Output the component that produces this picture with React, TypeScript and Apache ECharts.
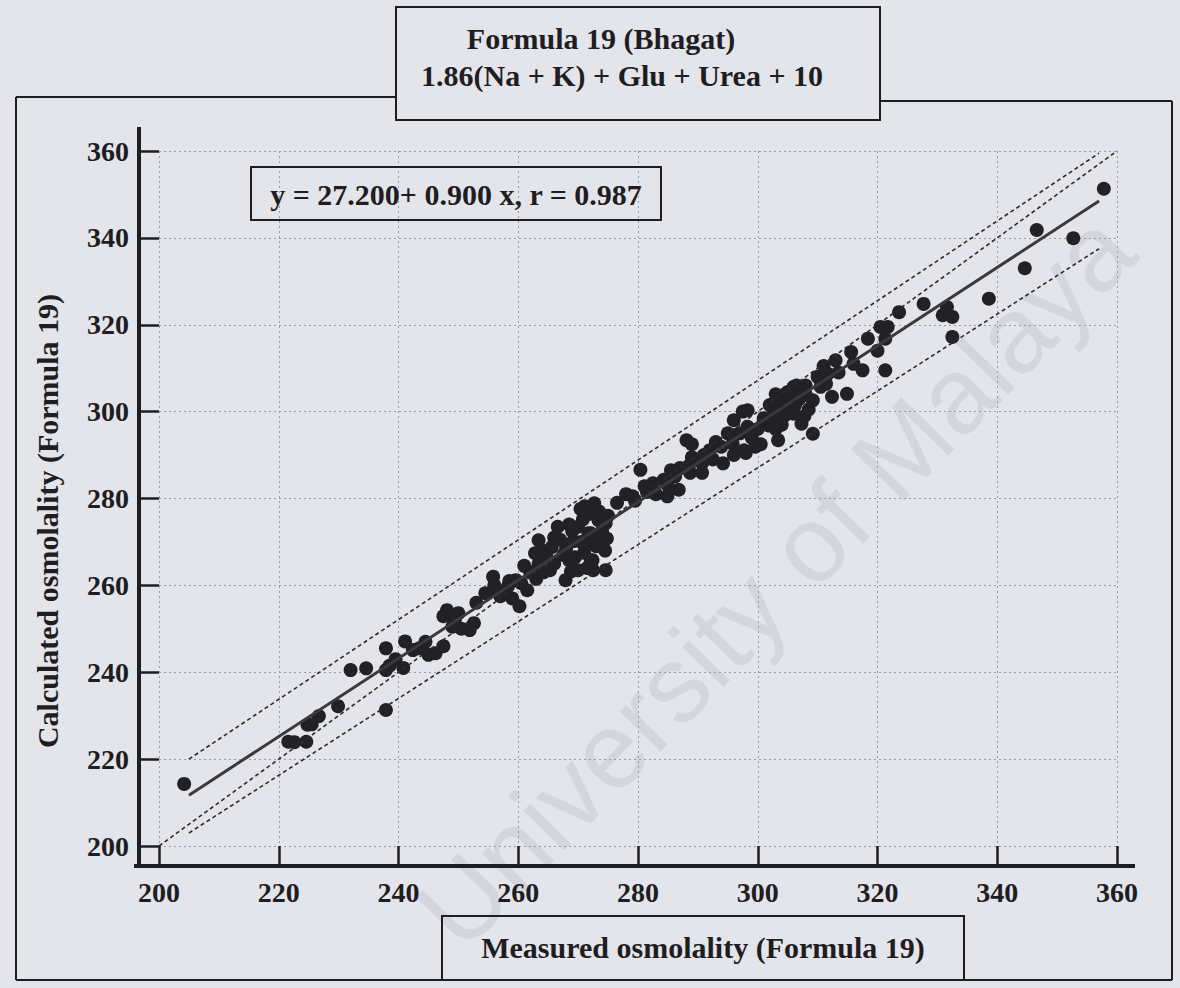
import React, { useEffect, useRef } from "react";
import * as echarts from "echarts";

// Axis scale (mOsm/kg)
const AXIS_MIN = 200;
const AXIS_MAX = 360;
const AXIS_STEP = 20;

// Regression of calculated on measured osmolality
const INTERCEPT = 27.2;
const SLOPE = 0.9;
const R = 0.987;
const FIT_RANGE = [205, 357];

// Line of identity and the limits around the fit
const identityLine = [
  [200, 200],
  [360, 360],
];
const upperLimit = [
  [205, 220],
  [357, 359.5],
];
const lowerLimit = [
  [205, 203],
  [357, 337.5],
];

// Paired samples: [measured, calculated]
const lowRange: [number, number][] = [
  [204.2, 214.3], [221.6, 224.0], [222.6, 223.9], [224.6, 224.0], [224.8, 227.9],
  [225.5, 228.0], [226.7, 229.9], [229.9, 232.2], [232.0, 240.5], [234.6, 240.9],
  [237.9, 240.5], [237.9, 231.3], [240.8, 241.0], [237.9, 245.5], [241.1, 247.1],
  [242.4, 245.1], [246.2, 244.4], [247.5, 246.0], [248.1, 254.3], [250.0, 253.6],
  [249.4, 252.0], [247.5, 252.9], [251.9, 249.7], [252.6, 251.3], [254.5, 258.2],
  [239.5, 243.0], [243.5, 245.5], [244.5, 247.0], [245.0, 244.0], [238.5, 241.5],
  [249.0, 250.5], [250.5, 250.0], [253.0, 256.0],
];

const midRange: [number, number][] = [
  [255.8, 262.0], [256.4, 258.9], [258.3, 259.8], [259.6, 261.2], [260.2, 255.2],
  [261.5, 258.9], [263.4, 265.0], [263.4, 270.4], [262.8, 267.4], [264.7, 266.6],
  [266.6, 273.5], [265.3, 263.5], [268.5, 265.8], [267.9, 261.2], [271.1, 278.2],
  [271.7, 272.0], [272.4, 265.8], [273.7, 275.1], [257.0, 257.5], [256.0, 260.0],
  [258.5, 261.0], [260.5, 260.5], [262.0, 263.0], [264.0, 268.0], [266.0, 265.0],
  [267.0, 270.5], [268.0, 268.5], [269.0, 272.5], [269.5, 266.5], [270.0, 273.5],
  [270.5, 270.0], [271.0, 267.5], [272.0, 276.5], [272.5, 263.5], [273.0, 269.0],
  [274.0, 272.5], [274.5, 268.0], [275.0, 276.0], [273.5, 277.0], [271.5, 264.0],
  [270.0, 263.5], [268.5, 274.0], [267.5, 267.0], [266.0, 271.0], [263.0, 261.5],
  [261.0, 264.5], [259.0, 257.0], [272.7, 278.9], [273.4, 275.0], [274.6, 274.3],
  [274.0, 269.0], [274.6, 263.5], [272.1, 265.8], [272.1, 272.0], [269.2, 270.2],
  [270.8, 275.2], [273.2, 271.2], [271.6, 269.6], [274.8, 270.8], [268.8, 263.2],
  [265.6, 268.8], [264.2, 263.0], [270.4, 277.6],
];

const upperMidRange: [number, number][] = [
  [276.5, 279.0], [278.0, 281.0], [279.5, 279.5], [281.5, 281.5], [282.5, 283.5],
  [283.0, 281.0], [285.0, 283.0], [287.0, 287.0], [289.0, 289.5], [289.0, 292.5],
  [291.0, 290.0], [292.5, 289.0], [293.0, 293.0], [295.0, 295.0], [296.0, 298.0],
  [297.5, 300.0], [288.5, 287.5], [285.5, 286.5], [288.1, 293.4], [280.4, 286.6],
  [281.1, 282.8], [284.3, 284.3], [286.2, 285.1], [284.9, 280.5], [286.8, 282.0],
  [288.7, 285.9], [290.7, 285.9], [279.1, 280.5], [290.7, 288.1], [294.2, 288.1],
  [292.0, 291.1], [293.9, 291.9], [295.8, 292.6], [297.7, 291.1], [299.6, 291.9],
];

const highRange: [number, number][] = [
  [298.3, 300.3], [303.4, 300.3], [300.9, 297.2], [298.3, 296.5], [306.0, 299.5],
  [307.3, 297.2], [309.2, 294.9], [303.4, 293.4], [301.0, 298.5], [302.0, 301.5],
  [303.0, 296.0], [304.0, 302.0], [305.0, 304.5], [305.5, 300.0], [306.5, 306.0],
  [307.0, 303.0], [308.0, 306.0], [308.5, 300.5], [310.0, 308.0], [302.5, 299.0],
  [300.0, 296.0], [299.0, 294.0], [297.0, 295.0], [296.0, 290.0], [298.0, 290.5],
  [300.5, 292.5], [304.0, 297.0], [308.0, 304.0], [304.7, 304.1], [306.6, 302.6],
  [309.2, 302.6], [312.4, 303.4], [314.9, 304.1], [306.0, 305.7], [310.5, 305.7],
  [311.4, 306.4], [311.7, 308.7], [313.0, 311.8], [315.6, 313.7], [317.5, 309.5],
  [321.3, 309.5], [318.4, 316.8], [321.3, 316.8], [311.0, 310.5], [313.5, 309.0],
  [316.0, 311.0], [320.0, 314.0], [320.5, 319.5], [301.8, 296.8], [304.6, 299.2],
  [306.2, 301.4], [307.8, 299.0], [303.0, 304.0], [305.4, 303.0],
];

const topRange: [number, number][] = [
  [321.7, 319.5], [323.6, 322.9], [327.7, 324.8], [330.9, 322.2], [331.6, 324.1],
  [332.5, 321.8], [332.5, 317.2], [338.6, 326.0], [344.6, 333.0], [346.6, 341.8],
  [352.7, 339.9], [357.8, 351.3],
];

const samples = [...lowRange, ...midRange, ...upperMidRange, ...highRange, ...topRange];

const TITLE = "Formula 19 (Bhagat)";
const SUBTITLE = "1.86(Na + K) + Glu + Urea + 10";
const X_NAME = "Measured osmolality (Formula 19)";
const Y_NAME = "Calculated osmolality (Formula 19)";
const WATERMARK = "University of Malaya";

const SERIF = '"Liberation Serif", "Times New Roman", serif';
const INK = "#1e1e22";
const PAPER = "#e4e4eb";

export default function App() {
  const ref = useRef<HTMLDivElement>(null);

  useEffect(() => {
    if (!ref.current) return;
    const chart = echarts.init(ref.current, null, { renderer: "svg" });

    const regression = FIT_RANGE.map((x) => [x, INTERCEPT + SLOPE * x]);
    const equation = `y = ${INTERCEPT.toFixed(3)}+ ${SLOPE.toFixed(3)} x, r = ${R.toFixed(3)}`;

    const axisCommon = {
      type: "value" as const,
      min: AXIS_MIN,
      max: AXIS_MAX,
      interval: AXIS_STEP,
      offset: 20,
      axisLine: { show: false },
      axisTick: {
        show: true,
        inside: true,
        length: 20,
        lineStyle: { color: INK, width: 2.5 },
      },
      splitLine: {
        show: true,
        lineStyle: { color: "#9a9aa4", width: 1, type: [2, 3] },
      },
    };

    const labelStyle = {
      fontSize: 28,
      fontWeight: "bold" as const,
      color: INK,
      fontFamily: SERIF,
    };

    const bold = (size: number) => `bold ${size}px ${SERIF}`;

    const line = (x1: number, y1: number, x2: number, y2: number, w: number) => ({
      type: "line",
      z: 50,
      shape: { x1, y1, x2, y2 },
      style: { stroke: INK, lineWidth: w },
    });

    const text = (t: string, x: number, y: number, size: number, extra: any = {}) => ({
      type: "text",
      z: 60,
      x,
      y,
      ...extra,
      style: {
        text: t,
        font: bold(size),
        fill: INK,
        align: "center",
        verticalAlign: "middle",
        textAlign: "center",
        textVerticalAlign: "middle",
      },
    });

    const box = (x: number, y: number, width: number, height: number) => ({
      type: "rect",
      z: 50,
      shape: { x, y, width, height },
      style: { fill: "none", stroke: INK, lineWidth: 2 },
    });

    const dashed = { color: "#2c2c30", width: 1.6, type: [4, 3] };

    chart.setOption({
      animation: false,
      backgroundColor: "transparent",
      textStyle: { fontFamily: SERIF },
      grid: { left: 159, top: 151, width: 958, height: 695 },
      xAxis: { ...axisCommon, axisLabel: { ...labelStyle, margin: 12 } },
      yAxis: { ...axisCommon, axisLabel: { ...labelStyle, margin: 10 } },
      series: [
        {
          type: "scatter",
          data: samples,
          symbol: "circle",
          symbolSize: 14,
          itemStyle: { color: "#222226", opacity: 1 },
          z: 3,
        },
        { type: "line", data: identityLine, symbol: "none", lineStyle: dashed, z: 4 },
        { type: "line", data: upperLimit, symbol: "none", lineStyle: dashed, z: 4 },
        { type: "line", data: lowerLimit, symbol: "none", lineStyle: dashed, z: 4 },
        {
          type: "line",
          data: regression,
          symbol: "none",
          lineStyle: { color: "#3a3a3e", width: 3 },
          z: 5,
        },
      ],
      graphic: [
        {
          type: "text",
          z: -10,
          x: 775,
          y: 580,
          rotation: 0.8,
          silent: true,
          style: {
            text: WATERMARK,
            font: `108px "Liberation Sans", Arial, sans-serif`,
            fill: "rgba(110, 110, 135, 0.12)",
            align: "center",
            verticalAlign: "middle",
            textAlign: "center",
            textVerticalAlign: "middle",
          },
        },
        // page frame, interrupted by the title box
        line(16, 97, 396, 97, 2),
        line(880, 101, 1172, 101, 2),
        line(16, 97, 16, 980, 2),
        line(1172, 101, 1172, 980, 2),
        line(16, 980, 1172, 980, 2),
        // axis lines
        line(134, 866, 1135, 866, 4),
        line(139, 127, 139, 868, 4),
        // title
        box(396, 7, 484, 113),
        text(TITLE, 601, 38, 30),
        text(SUBTITLE, 622, 75, 30),
        // regression equation
        box(251, 167, 410, 53),
        text(equation, 456, 194, 30),
        // axis names
        box(442, 916, 522, 64),
        text(X_NAME, 703, 947, 30),
        text(Y_NAME, 47, 521, 30, { rotation: Math.PI / 2 }),
      ],
    });

    return () => chart.dispose();
  }, []);

  return (
    <div
      style={{
        position: "absolute",
        left: 0,
        top: 0,
        width: 1180,
        height: 988,
        background: PAPER,
      }}
    >
      <div ref={ref} style={{ width: 1180, height: 988 }} />
    </div>
  );
}
